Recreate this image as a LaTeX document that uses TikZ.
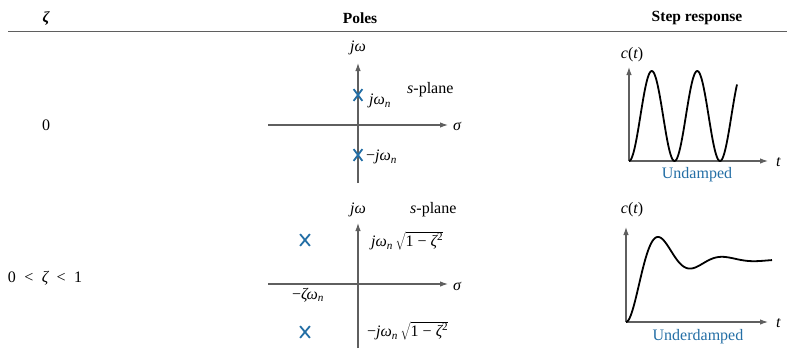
\documentclass[tikz,border=0pt]{standalone}
\usepackage{fontspec}
\setmainfont{Liberation Serif}
\usetikzlibrary{arrows.meta,shapes.misc}
\definecolor{poleblue}{RGB}{35,110,165}
\definecolor{axisgray}{RGB}{95,95,95}
\newcommand\vi[1]{{\itshape #1}}
\newcommand\sbn{\textsubscript{\itshape n}}
\newcommand\rootpart{\,$\sqrt{\mbox{1 − \vi{ζ}\textsuperscript{2}}}$}
\begin{document}
\begin{tikzpicture}[x=1pt,y=-1pt,
 axis/.style={draw=axisgray,line width=1.1pt,-{Latex[length=8pt,width=5.5pt]}},
 resp/.style={line width=1.8pt,black,line join=round},
 polemark/.style={draw=poleblue,cross out,line width=1.8pt,minimum width=7pt,minimum height=10pt,inner sep=0pt},
 lbl/.style={font=\fontsize{16}{18}\selectfont,inner sep=0pt},
 hdr/.style={font=\bfseries\fontsize{15.5}{17}\selectfont,inner sep=0pt}]
\useasboundingbox (0,0) rectangle (787,349);
% header
\node[hdr] (hz) at (46,18) {\itshape ζ};
\node[hdr] (hp) at (360,18) {Poles};
\node[hdr] (hs) at (697,18) {Step response};
\coordinate (rl) at (8,31);
\coordinate (rr) at (787,31);
\draw[line width=0.9pt,axisgray] (rl) -- (rr);
% row 1
\node[lbl] (z0) at (46,125) {0};
\coordinate (h1l) at (268,125); \coordinate (h1r) at (448,125);
\coordinate (v1b) at (358,183); \coordinate (v1t) at (358,63);
\draw[axis] (h1l) -- (h1r);
\draw[axis] (v1b) -- (v1t);
\node[lbl] (jw1) at (358,48) {\vi{jω}};
\node[lbl,anchor=west] (sig1) at (453,126) {\vi{σ}};
\node[lbl,anchor=west] (sp1) at (407,90) {\vi{s}-plane};
\node[polemark] (p1a) at (358,95) {};
\node[polemark] (p1b) at (358,155) {};
\node[lbl,anchor=west] (l1a) at (369,101) {\vi{jω}\sbn};
\node[lbl,anchor=west] (l1b) at (366,157) {−\vi{jω}\sbn};
% row 2
\node[lbl] (z1) at (45,278) {0 \;<\; \vi{ζ} \;<\; 1};
\coordinate (h2l) at (268,284); \coordinate (h2r) at (448,284);
\coordinate (v2b) at (358,348); \coordinate (v2t) at (358,223);
\draw[axis] (h2l) -- (h2r);
\draw[axis] (v2b) -- (v2t);
\node[lbl] (jw2) at (358,210) {\vi{jω}};
\node[lbl,anchor=west] (sig2) at (453,286) {\vi{σ}};
\node[lbl,anchor=west] (sp2) at (410,210) {\vi{s}-plane};
\node[polemark,minimum width=8pt] (p2a) at (305,240) {};
\node[polemark,minimum width=8pt] (p2b) at (305,332) {};
\node[lbl] (zw) at (308,295) {−\vi{ζω}\sbn};
\node[lbl,anchor=west] (l2a) at (371,241) {\vi{jω}\sbn\rootpart};
\node[lbl,anchor=west] (l2b) at (367,331) {−\vi{jω}\sbn\rootpart};
% response 1
\coordinate (o1) at (629,161);
\coordinate (r1t) at (629,67); \coordinate (r1r) at (768,161);
\draw[axis] (o1) -- (r1t);
\draw[axis] (o1) -- (r1r);
\node[lbl] (c1) at (632,55) {\vi{c}(\vi{t})};
\node[lbl,anchor=west] (t1) at (776,162) {\vi{t}};
\node[lbl,text=poleblue] (u1) at (697,175) {Undamped};
\draw[resp] plot[domain=0:108,samples=160,smooth] ({629+\x},{161-45*(1-cos(7.912*\x))});
% response 2
\coordinate (o2) at (626,322);
\coordinate (r2t) at (626,227); \coordinate (r2r) at (768,322);
\draw[axis] (o2) -- (r2t);
\draw[axis] (o2) -- (r2r);
\node[lbl] (c2) at (632,210) {\vi{c}(\vi{t})};
\node[lbl,anchor=west] (t2) at (776,323) {\vi{t}};
\node[lbl,text=poleblue] (u2) at (698,337) {Underdamped};
\draw[resp] plot[domain=0:146,samples=200,smooth] ({626+\x},{322-62*(1-exp(-0.0309*\x)*(cos(5.625*\x)+0.3145*sin(5.625*\x)))});
\end{tikzpicture}
\end{document}
